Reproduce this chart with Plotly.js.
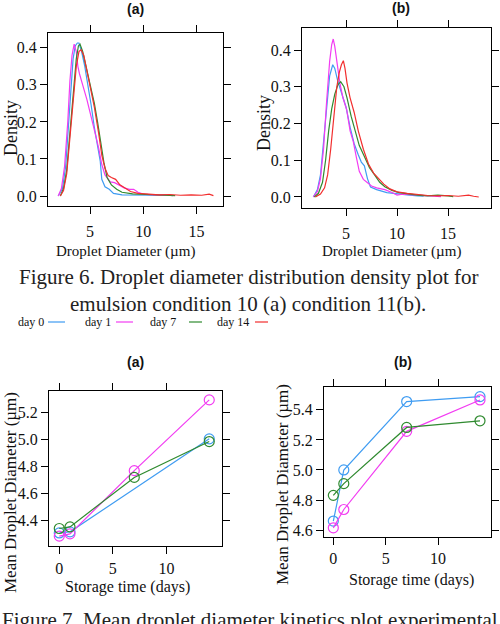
<!DOCTYPE html>
<html><head><meta charset="utf-8">
<script src="https://cdn.plot.ly/plotly-3.0.1.min.js"></script>
<style>html,body{margin:0;padding:0;background:#fff}</style>
</head><body><div id="chart" style="width:500px;height:624px"></div>
<script>
// ---------- Figure 6 data (density curves) ----------
var seriesNames = ['day 0', 'day 1', 'day 7', 'day 14'];
// condition 10 (a)
var a_day0_x = [2.0,2.4,2.7,3.0,3.2,3.4,3.6,3.8,3.95,4.2,4.5,4.8,5.1,5.4,5.7,5.95,6.1,6.4,6.8,7.2,8.0,9.0,10.0,11.0,12.0,12.8];
var a_day0_y = [0,0.02,0.08,0.2,0.3,0.37,0.405,0.413,0.413,0.39,0.35,0.30,0.245,0.185,0.13,0.095,0.045,0.025,0.018,0.007,0.003,0.002,0.002,0.002,0.003,0.001];
var a_day1_x = [2.0,2.3,2.6,2.9,3.1,3.3,3.5,3.7,3.85,4.0,4.3,4.7,5.3,5.8,6.1,6.4,6.9,7.3,7.7,8.2,8.7,9.1,9.5,10.0,11.0,12.0];
var a_day1_y = [0,0.02,0.08,0.2,0.31,0.38,0.41,0.39,0.35,0.33,0.30,0.26,0.19,0.13,0.085,0.057,0.038,0.036,0.03,0.022,0.018,0.018,0.01,0.005,0.003,0.002];
var a_day7_x = [2.2,2.5,2.8,3.1,3.4,3.7,3.9,4.05,4.3,4.6,5.0,5.4,5.7,6.0,6.3,6.6,7.0,7.5,8.0,9.0,10.0,11.0,12.0,13.0];
var a_day7_y = [0,0.02,0.07,0.17,0.29,0.37,0.405,0.41,0.39,0.35,0.30,0.25,0.20,0.14,0.09,0.05,0.03,0.018,0.01,0.006,0.004,0.003,0.002,0.001];
var a_day14_x = [2.2,2.5,2.8,3.1,3.4,3.7,3.95,4.15,4.4,4.7,5.0,5.4,5.8,6.1,6.4,6.7,7.0,7.4,7.8,8.3,8.8,9.5,10.5,11.5,12.5,13.5,14.5,15.5,16.2,16.6];
var a_day14_y = [0,0.015,0.06,0.15,0.26,0.35,0.39,0.395,0.38,0.34,0.30,0.24,0.17,0.11,0.075,0.055,0.05,0.045,0.03,0.02,0.012,0.007,0.005,0.003,0.004,0.002,0.003,0.002,0.005,0.001];
// condition 11 (b)
var b_day0_x = [1.8,2.2,2.5,2.8,3.1,3.4,3.7,3.9,4.2,4.6,5.0,5.4,5.8,6.2,6.5,6.8,7.1,7.4,8.0,9.0,10.0,11.0,12.0,12.6];
var b_day0_y = [0,0.02,0.06,0.15,0.26,0.33,0.36,0.35,0.315,0.28,0.245,0.19,0.145,0.115,0.095,0.085,0.05,0.027,0.02,0.012,0.008,0.006,0.003,0.002];
var b_day1_x = [1.8,2.2,2.5,2.8,3.1,3.4,3.6,3.75,3.9,4.1,4.4,4.7,5.07,5.4,5.72,6.0,6.3,6.7,7.03,7.5,8.0,8.8,9.5,10.0,10.5,11.5,12.5,13.5,14.3];
var b_day1_y = [0,0.015,0.05,0.13,0.26,0.37,0.415,0.43,0.41,0.37,0.31,0.27,0.237,0.18,0.15,0.11,0.07,0.048,0.04,0.03,0.025,0.02,0.012,0.005,0.008,0.006,0.004,0.002,0.001];
var b_day7_x = [1.9,2.3,2.7,3.0,3.3,3.6,3.9,4.2,4.48,4.8,5.1,5.5,5.9,6.3,6.8,7.3,7.8,8.3,8.8,9.5,10.2,11.0,12.0,13.0,14.0,15.0,15.5];
var b_day7_y = [0,0.01,0.04,0.1,0.18,0.24,0.28,0.305,0.314,0.30,0.27,0.22,0.18,0.14,0.11,0.08,0.06,0.04,0.028,0.018,0.012,0.008,0.005,0.003,0.005,0.003,0.001];
var b_day14_x = [2.0,2.5,2.9,3.2,3.5,3.8,4.1,4.35,4.55,4.74,4.9,5.1,5.4,5.8,6.2,6.7,7.2,7.7,8.2,8.7,9.3,10.0,11.0,12.0,13.0,14.0,15.0,16.0,17.0,17.5,18.0];
var b_day14_y = [0,0.008,0.025,0.06,0.13,0.22,0.30,0.34,0.36,0.371,0.35,0.31,0.27,0.23,0.18,0.13,0.09,0.065,0.05,0.035,0.022,0.014,0.01,0.006,0.004,0.003,0.004,0.002,0.005,0.002,0];

// ---------- Figure 7 data (mean diameter kinetics) ----------
var days = [0, 1, 7, 14];
var k_a_blue  = [4.307, 4.315, null, 5.005];
var k_a_mag   = [4.283, 4.300, 4.769, 5.294];
var k_a_green = [4.340, 4.352, 4.719, 4.985];
var k_b_blue  = [4.660, 5.000, 5.455, 5.488];
var k_b_mag   = [4.615, 4.737, 5.257, 5.466];
var k_b_green = [4.831, 4.909, 5.283, 5.327];

// tick labels
var densTickVals = [0, 0.1, 0.2, 0.3, 0.4];
var densTickText = ['0.0', '0.1', '0.2', '0.3', '0.4'];
var diamTickVals = [5, 10, 15];
var kinXTickVals = [0, 5, 10];
var kinATickVals = [4.4, 4.6, 4.8, 5.0, 5.2];
var kinATickText = ['4.4', '4.6', '4.8', '5.0', '5.2'];
var kinBTickVals = [4.6, 4.8, 5.0, 5.2, 5.4];
var kinBTickText = ['4.6', '4.8', '5.0', '5.2', '5.4'];

// ---------- styles ----------
var COLORS = ['#3f9cf2', '#f23cf2', '#2f8a2f', '#f22e2e'];
var W = 500, H = 624;
function fx(p) { return p / W; }
function fy(p) { return 1 - p / H; }
var SERIF = 'Liberation Serif';
var SANS = 'Liberation Sans';

function lineTrace(x, y, color, xa, ya, name) {
  return { type: 'scatter', mode: 'lines', x: x, y: y, name: name,
    xaxis: xa, yaxis: ya, line: { color: color, width: 1.2 }, hoverinfo: 'skip' };
}
function kinTrace(y, color, xa, ya) {
  return { type: 'scatter', mode: 'lines+markers', x: days, y: y, connectgaps: true,
    xaxis: xa, yaxis: ya, line: { color: color, width: 1.2 },
    marker: { symbol: 'circle-open', size: 10, color: color, line: { color: color, width: 1.2 } },
    hoverinfo: 'skip' };
}

var data = [
  lineTrace(a_day0_x, a_day0_y, COLORS[0], 'x', 'y', seriesNames[0]),
  lineTrace(a_day1_x, a_day1_y, COLORS[1], 'x', 'y', seriesNames[1]),
  lineTrace(a_day7_x, a_day7_y, COLORS[2], 'x', 'y', seriesNames[2]),
  lineTrace(a_day14_x, a_day14_y, COLORS[3], 'x', 'y', seriesNames[3]),
  lineTrace(b_day0_x, b_day0_y, COLORS[0], 'x2', 'y2', seriesNames[0]),
  lineTrace(b_day1_x, b_day1_y, COLORS[1], 'x2', 'y2', seriesNames[1]),
  lineTrace(b_day7_x, b_day7_y, COLORS[2], 'x2', 'y2', seriesNames[2]),
  lineTrace(b_day14_x, b_day14_y, COLORS[3], 'x2', 'y2', seriesNames[3]),
  kinTrace(k_a_blue, COLORS[0], 'x3', 'y3'),
  kinTrace(k_a_mag, COLORS[1], 'x3', 'y3'),
  kinTrace(k_a_green, COLORS[2], 'x3', 'y3'),
  kinTrace(k_b_blue, COLORS[0], 'x4', 'y4'),
  kinTrace(k_b_mag, COLORS[1], 'x4', 'y4'),
  kinTrace(k_b_green, COLORS[2], 'x4', 'y4')
];

function axis(extra) {
  var base = { showline: true, linecolor: '#000', linewidth: 1, mirror: 'allticks',
    ticks: 'outside', ticklen: 7, tickcolor: '#000', tickwidth: 1,
    showgrid: false, zeroline: false, fixedrange: true,
    tickfont: { family: SERIF, size: 16, color: '#111' } };
  for (var k in extra) base[k] = extra[k];
  return base;
}

var annotations = [];
function ann(text, x, y, o) {
  o = o || {};
  annotations.push({ text: text, xref: 'paper', yref: 'paper', x: fx(x), y: fy(y),
    xanchor: o.xanchor || 'center', yanchor: 'middle', showarrow: false,
    textangle: o.angle || 0,
    font: { family: o.family || SERIF, size: o.size || 16, color: o.color || '#111' } });
}
// panel titles
ann('<b>(a)</b>', 135, 9, { family: SANS, size: 14 });
ann('<b>(b)</b>', 401, 8, { family: SANS, size: 14 });
ann('<b>(a)</b>', 135, 362, { family: SANS, size: 14 });
ann('<b>(b)</b>', 403, 362, { family: SANS, size: 14 });
// axis titles fig 6
ann('Density', 11, 128, { angle: -90, size: 18 });
ann('Density', 264, 123, { angle: -90, size: 18 });
ann('Droplet Diameter (µm)', 125, 251, { size: 15 });
ann('Droplet Diameter (µm)', 391, 251, { size: 15 });
// captions
ann('Figure 6. Droplet diameter distribution density plot for', 249, 277, { size: 21, color: '#222' });
ann('emulsion condition 10 (a) condition 11(b).', 248, 304, { size: 21, color: '#222' });
ann('Figure 7. Mean droplet diameter kinetics plot experimental', 250, 620, { size: 21, color: '#222' });
// legend texts
var legendTextX = [16, 83, 148, 215];
var legendLineX = [[48, 65], [116, 133], [189, 202], [255, 268]];
for (var i = 0; i < 4; i++) ann(seriesNames[i], legendTextX[i], 322, { xanchor: 'left', size: 12 });
// axis titles fig 7
ann('Mean Droplet Diameter (µm)', 10, 493, { angle: -90, size: 17 });
ann('Mean Droplet Diameter (µm)', 282, 485, { angle: -90, size: 17 });
ann('Storage time (days)', 127, 587, { size: 16 });
ann('Storage time (days)', 411, 580, { size: 16 });

var shapes = [];
for (var j = 0; j < 4; j++) {
  shapes.push({ type: 'line', xref: 'paper', yref: 'paper',
    x0: fx(legendLineX[j][0]), x1: fx(legendLineX[j][1]), y0: fy(322), y1: fy(322),
    line: { color: COLORS[j], width: 1.2 } });
}

var layout = {
  width: W, height: H, margin: { l: 0, r: 0, t: 0, b: 0 },
  paper_bgcolor: '#fff', plot_bgcolor: '#fff', showlegend: false,
  xaxis: axis({ domain: [fx(48), fx(223)], range: [1.04, 17.5], anchor: 'y',
    tickvals: diamTickVals, ticklabelstandoff: 4 }),
  yaxis: axis({ domain: [fy(206), fy(33)], range: [-0.027, 0.44], anchor: 'x',
    tickvals: densTickVals, ticktext: densTickText }),
  xaxis2: axis({ domain: [fx(302), fx(491)], range: [0.69, 19.2], anchor: 'y2',
    tickvals: diamTickVals, ticklabelstandoff: 4 }),
  yaxis2: axis({ domain: [fy(208), fy(28)], range: [-0.03, 0.46], anchor: 'x2',
    tickvals: densTickVals, ticktext: densTickText }),
  xaxis3: axis({ domain: [fx(49), fx(222)], range: [-0.96, 15.19], anchor: 'y3',
    tickvals: kinXTickVals, ticklabelstandoff: 1 }),
  yaxis3: axis({ domain: [fy(546), fy(391)], range: [4.21, 5.36], anchor: 'x3',
    tickvals: kinATickVals, ticktext: kinATickText }),
  xaxis4: axis({ domain: [fx(324), fx(491)], range: [-0.89, 15.05], anchor: 'y4',
    tickvals: kinXTickVals, ticklabelstandoff: 0 }),
  yaxis4: axis({ domain: [fy(537), fy(387)], range: [4.554, 5.552], anchor: 'x4',
    tickvals: kinBTickVals, ticktext: kinBTickText }),
  annotations: annotations,
  shapes: shapes
};

Plotly.newPlot('chart', data, layout, { displayModeBar: false, staticPlot: true });
</script></body></html>
